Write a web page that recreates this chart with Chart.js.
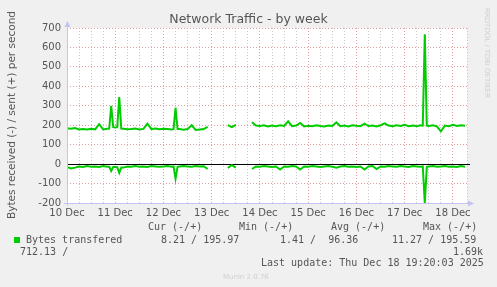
<!DOCTYPE html>
<html lang="en">
<head>
    <meta charset="UTF-8">
    <title>Network Traffic - by week</title>
    <script src="https://cdn.jsdelivr.net/npm/chart.js"></script>
    <style>
        body {
            margin: 0;
            background: #f0f0f0;
            font-family: "DejaVu Sans", sans-serif;
        }
        #wrap {
            position: relative;
            width: 497px;
            height: 287px;
            overflow: hidden;
        }
        #chart {
            position: absolute;
            left: 0;
            top: 0;
        }
        .txt {
            position: absolute;
            white-space: pre;
            line-height: 12px;
            color: #555;
        }
        .mono {
            font-family: "DejaVu Sans Mono", monospace;
            font-size: 10px;
        }
        #title {
            left: 0;
            width: 497px;
            top: 12px;
            text-align: center;
            font-size: 12.5px;
            line-height: 14px;
        }
        #ytitle {
            left: 11px;
            top: 115px;
            font-size: 10.5px;
            transform: translate(-50%, -50%) rotate(-90deg);
        }
        #rrd {
            left: 487px;
            top: 53px;
            font-size: 7px;
            color: #cfcfcf;
            transform: translate(-50%, -50%) rotate(90deg);
        }
        #munin {
            left: 223px;
            top: 271px;
            font-size: 7px;
            color: #d0d0d0;
        }
        .swatch {
            position: absolute;
            left: 14px;
            top: 237px;
            width: 6px;
            height: 6px;
            background: #00cc00;
        }
    </style>
</head>
<body>
    <div id="wrap">
        <canvas id="chart" width="497" height="287"></canvas>
        <div class="txt" id="title">Network Traffic - by week</div>
        <div class="txt" id="ytitle">Bytes received (-) / sent (+) per second</div>
        <div class="txt" id="rrd">RRDTOOL / TOBI OETIKER</div>

        <div class="txt mono" style="left:148px;top:221px">Cur (-/+)</div>
        <div class="txt mono" style="left:239px;top:221px">Min (-/+)</div>
        <div class="txt mono" style="left:331px;top:221px">Avg (-/+)</div>
        <div class="txt mono" style="left:423px;top:221px">Max (-/+)</div>

        <div class="swatch"></div>
        <div class="txt mono" style="left:26px;top:234px">Bytes transfered</div>
        <div class="txt mono" style="left:161px;top:234px">8.21 / 195.97</div>
        <div class="txt mono" style="left:280px;top:234px">1.41 /  96.36</div>
        <div class="txt mono" style="left:392px;top:234px">11.27 / 195.59</div>

        <div class="txt mono" style="left:20px;top:246px">712.13 /</div>
        <div class="txt mono" style="left:453px;top:246px">1.69k</div>

        <div class="txt mono" style="left:261px;top:257px">Last update: Thu Dec 18 19:20:03 2025</div>
        <div class="txt" id="munin">Munin 2.0.76</div>
    </div>
    <script>
        // hours since 10 Dec 00:00
        const hours = [
            0, 2, 4, 6, 8, 10, 12, 14, 16, 18, 20, 21, 22, 23, 24, 25, 26, 27, 28, 30,
            32, 34, 36, 38, 40, 42, 44, 46, 48, 50, 52, 53, 54, 55, 56, 58, 60, 62, 64, 66,
            68, 70, 72, 74, 76, 78, 80, 82, 84, 86, 88, 90, 92, 94, 96, 98, 100, 102, 104, 106,
            108, 110, 112, 114, 116, 118, 120, 122, 124, 126, 128, 130, 132, 134, 136, 138, 140, 142, 144, 146,
            148, 150, 152, 154, 156, 158, 160, 162, 164, 166, 168, 170, 172, 174, 176, 177, 178, 179, 180, 182,
            184, 186, 188, 190, 192, 194, 196, 198
        ];
        // bytes sent (+)
        const sent = [
            185, 182, 186, 178, 181, 178, 182, 179, 205, 178, 182, 183, 300, 190, 188, 190, 345, 183, 182, 179,
            180, 183, 178, 181, 208, 180, 183, 179, 182, 180, 178, 180, 290, 180, 180, 177, 180, 200, 176, 178,
            180, 192, null, null, null, null, 200, 190, 202, null, null, null, 215, 198, 196, 200, 194, 198, 195, 200,
            196, 220, 195, 198, 212, 194, 197, 195, 200, 196, 194, 199, 196, 215, 195, 198, 194, 200, 197, 195,
            208, 196, 199, 194, 200, 210, 198, 195, 200, 196, 202, 195, 198, 195, 200, 198, 668, 198, 196, 200,
            194, 168, 198, 195, 202, 196, 200, 197
        ];
        // bytes received (-)
        const received = [
            -15, -22, -18, -12, -15, -10, -14, -12, -15, -10, -14, -14, -35, -15, -15, -16, -45, -18, -18, -12,
            -14, -10, -13, -12, -15, -10, -12, -14, -12, -10, -13, -12, -75, -14, -12, -10, -12, -14, -10, -12,
            -11, -25, null, null, null, null, -20, -5, -18, null, null, null, -25, -12, -14, -10, -12, -15, -12, -28,
            -12, -14, -10, -12, -28, -12, -14, -10, -12, -15, -12, -10, -14, -18, -12, -10, -14, -12, -15, -12,
            -28, -12, -10, -25, -12, -14, -10, -12, -14, -10, -12, -15, -10, -12, -14, -12, -200, -14, -12, -10,
            -14, -12, -10, -14, -12, -15, -10, -14
        ];
        const dayLabels = ['10 Dec', '11 Dec', '12 Dec', '13 Dec', '14 Dec', '15 Dec', '16 Dec', '17 Dec', '18 Dec'];

        const lineColor = '#00cc00';
        const majorGrid = '#e2a0a0';
        const minorGrid = '#cacaca';
        const axisColor = '#c4c4f2';

        const plotDeco = {
            id: 'plotDeco',
            beforeDraw(chart) {
                const a = chart.chartArea;
                const ctx = chart.ctx;
                ctx.save();
                ctx.fillStyle = '#ffffff';
                ctx.fillRect(a.left, a.top, a.right - a.left, a.bottom - a.top);
                ctx.restore();
            },
            beforeDatasetsDraw(chart) {
                const a = chart.chartArea;
                const ctx = chart.ctx;
                const y0 = Math.round(chart.scales.y.getPixelForValue(0)) + 0.5;
                ctx.save();
                ctx.strokeStyle = '#000000';
                ctx.lineWidth = 1;
                ctx.beginPath();
                ctx.moveTo(a.left, y0);
                ctx.lineTo(a.right + 3, y0);
                ctx.stroke();
                ctx.restore();
            },
            afterDraw(chart) {
                const a = chart.chartArea;
                const ctx = chart.ctx;
                const x = a.left + 0.5;
                const y = a.bottom + 0.5;
                ctx.save();
                ctx.strokeStyle = axisColor;
                ctx.fillStyle = axisColor;
                ctx.lineWidth = 1;
                ctx.beginPath();
                ctx.moveTo(x, a.bottom + 3);
                ctx.lineTo(x, a.top - 4);
                ctx.moveTo(a.left - 3, y);
                ctx.lineTo(a.right + 4, y);
                ctx.stroke();
                // arrow heads
                ctx.beginPath();
                ctx.moveTo(x, a.top - 7);
                ctx.lineTo(x - 3, a.top - 1);
                ctx.lineTo(x + 3, a.top - 1);
                ctx.closePath();
                ctx.fill();
                ctx.beginPath();
                ctx.moveTo(a.right + 7, y);
                ctx.lineTo(a.right + 1, y - 3);
                ctx.lineTo(a.right + 1, y + 3);
                ctx.closePath();
                ctx.fill();
                ctx.restore();
            }
        };

        const ctx = document.getElementById('chart').getContext('2d');
        new Chart(ctx, {
            type: 'line',
            data: {
                datasets: [{
                    label: 'sent',
                    data: hours.map((h, i) => ({ x: h, y: sent[i] })),
                    borderColor: lineColor,
                    borderWidth: 2,
                    pointRadius: 0,
                    tension: 0,
                    spanGaps: false
                }, {
                    label: 'received',
                    data: hours.map((h, i) => ({ x: h, y: received[i] })),
                    borderColor: lineColor,
                    borderWidth: 2,
                    pointRadius: 0,
                    tension: 0,
                    spanGaps: false
                }]
            },
            options: {
                responsive: false,
                devicePixelRatio: 1,
                animation: false,
                layout: {
                    padding: { left: 0, top: 28, right: 30, bottom: 64 }
                },
                plugins: {
                    legend: { display: false },
                    tooltip: { enabled: false },
                    title: { display: false }
                },
                scales: {
                    x: {
                        type: 'linear',
                        min: 0,
                        max: 199,
                        afterFit(scale) { scale.height = 20; },
                        border: { display: false, dash: [1, 2] },
                        grid: {
                            drawTicks: false,
                            color: (c) => (c.tick && c.tick.value % 24 === 0) ? majorGrid : minorGrid
                        },
                        ticks: {
                            stepSize: 6,
                            autoSkip: false,
                            maxRotation: 0,
                            padding: 4,
                            color: '#555',
                            font: { family: 'DejaVu Sans', size: 10 },
                            callback: (v) => v % 24 === 0 ? (dayLabels[v / 24] || '') : ''
                        }
                    },
                    y: {
                        min: -200,
                        max: 700,
                        afterFit(scale) { scale.width = 67; },
                        border: { display: false, dash: [1, 2] },
                        grid: {
                            drawTicks: false,
                            color: (c) => (c.tick && c.tick.value % 100 === 0) ? majorGrid : minorGrid
                        },
                        ticks: {
                            stepSize: 50,
                            padding: 6,
                            color: '#555',
                            font: { family: 'DejaVu Sans', size: 10 },
                            callback: (v) => v % 100 === 0 ? String(v) : ''
                        }
                    }
                }
            },
            plugins: [plotDeco]
        });
    </script>
</body>
</html>
